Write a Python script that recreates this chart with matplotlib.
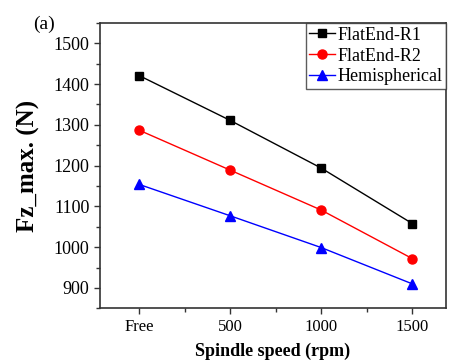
import matplotlib
matplotlib.use("Agg")
import matplotlib.pyplot as plt
from matplotlib.ticker import MultipleLocator

plt.rcParams["font.family"] = ["Liberation Serif", "DejaVu Serif"]

speeds = ["Free", "500", "1000", "1500"]
flat_r1 = [1421, 1311, 1194, 1058]
flat_r2 = [1287, 1189, 1091, 972]
hemi = [1154, 1077, 999, 910]

x = list(range(len(speeds)))

fig = plt.figure(figsize=(4.5, 3.64), dpi=100)
ax = fig.add_axes([0.222, 0.153, 0.769, 0.784])

ax.plot(x, flat_r1, color="black", lw=1, marker="s", ms=6, label="FlatEnd-R1")
ax.plot(x, flat_r2, color="red", lw=1, marker="o", ms=6.5, label="FlatEnd-R2")
ax.plot(x, hemi, color="blue", lw=1, marker="^", ms=7, label="Hemispherical")

ax.set_xlim(-0.43, 3.37)
ax.set_ylim(850, 1550)
ax.set_xticks(x)
ax.set_xticklabels(speeds)
ax.xaxis.set_minor_locator(MultipleLocator(0.5))
ax.yaxis.set_major_locator(MultipleLocator(100))
ax.yaxis.set_minor_locator(MultipleLocator(50))
ax.tick_params(which="both", direction="out", width=1, colors="#333333",
               labelcolor="black")
ax.tick_params(axis="x", labelsize=12)
ax.tick_params(axis="y", labelsize=13)
ax.tick_params(which="major", length=4)
ax.tick_params(which="minor", length=3)
for s in ax.spines.values():
    s.set_linewidth(1.2)
    s.set_color("#333333")

ax.set_xlabel("Spindle speed (rpm)", fontsize=13, fontweight="bold", labelpad=6)
ax.set_ylabel("Fz_max. (N)", fontsize=18, fontweight="bold", labelpad=10)

leg = ax.legend(loc="upper right", fontsize=13, frameon=True, fancybox=False,
                borderaxespad=0, handlelength=1.4, handletextpad=0.15,
                borderpad=0.2, labelspacing=0.22)
leg.get_frame().set_edgecolor("#333333")
leg.get_frame().set_linewidth(1)

fig.text(0.073, 0.92, "(a)", fontsize=14)

fig.savefig("out.png", dpi=100)
